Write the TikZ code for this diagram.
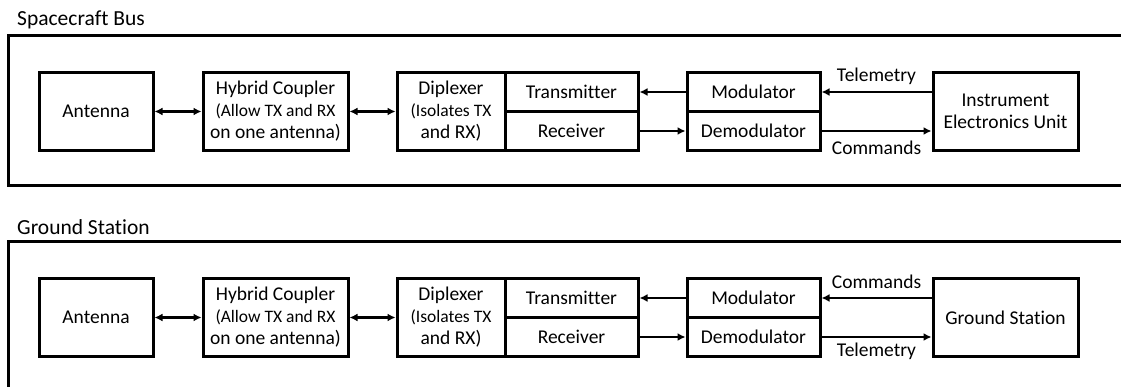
\documentclass[tikz,border=0pt]{standalone}
\usepackage{fontspec}
\setmainfont{Carlito}[Ligatures={NoCommon}]
\usetikzlibrary{arrows.meta}

\begin{document}
\begin{tikzpicture}[x=1pt,y=-1pt,
  blk/.style={draw, line width=3pt, inner sep=0pt, align=center,
    font=\fontsize{19.5}{22}\selectfont},
  frame/.style={line width=3pt},
  tip/.tip={Latex[length=8pt,width=8pt]},
  link/.style={line width=2.3pt, -tip},
  both/.style={line width=2.3pt, tip-tip},
  title/.style={font=\fontsize{21.5}{24}\selectfont, anchor=west, inner sep=0pt},
  tag/.style={font=\fontsize{19.5}{22}\selectfont, inner sep=0pt}]
\newcommand\subtxt{\fontsize{17.5}{22}\selectfont}
\path[use as bounding box, clip] (0,0) rectangle (1121,387);
\fill[white] (0,0) rectangle (1121,387);

% ---------------- Spacecraft bus ----------------
\node[title] (aTitle) at (17,20) {Spacecraft Bus};
\draw[frame] (1130,36) -- (8,36) -- (8,186) -- (1130,186);

\node[blk, minimum width=114pt, minimum height=78pt] (aAnt) at (96,111.5) {Antenna};
\node[blk, minimum width=145pt, minimum height=78pt] (aHyb) at (275.5,111.5)
  {Hybrid Coupler\\\subtxt(Allow TX and RX\\on one antenna)};
\node[blk, minimum width=108pt, minimum height=78pt] (aDip) at (451,111.5)
  {Diplexer\\\subtxt(Isolates TX\\and RX)};
\node[blk, minimum width=133pt, minimum height=39pt] (aTx) at (571.5,92) {Transmitter};
\node[blk, minimum width=133pt, minimum height=39pt] (aRx) at (571.5,131) {Receiver};
\node[blk, minimum width=133pt, minimum height=39pt] (aMod) at (753.5,92) {Modulator};
\node[blk, minimum width=133pt, minimum height=39pt] (aDem) at (753.5,131) {Demodulator};
\node[blk, minimum width=145pt, minimum height=78pt] (aIEU) at (1005.5,111.5)
  {Instrument\\Electronics Unit};

\draw[both] (aAnt.east) -- (aHyb.west);
\draw[both] (aHyb.east) -- (aDip.west);
\draw[link] (aMod.west) -- (aTx.east);
\draw[link] (aRx.east) -- (aDem.west);
\draw[link] (aIEU.west |- aMod.east) -- (aMod.east)
  node[tag, midway, above=6pt] (aTel) {Telemetry};
\draw[link] (aDem.east) -- (aIEU.west |- aDem.east)
  node[tag, midway, below=8.5pt] (aCmd) {Commands};

% ---------------- Ground station ----------------
\node[title] (bTitle) at (17,227) {Ground Station};
\draw[frame] (1130,242) -- (8,242) -- (8,400);

\node[blk, minimum width=114pt, minimum height=78pt] (bAnt) at (96,317.5) {Antenna};
\node[blk, minimum width=145pt, minimum height=78pt] (bHyb) at (275.5,317.5)
  {Hybrid Coupler\\\subtxt(Allow TX and RX\\on one antenna)};
\node[blk, minimum width=108pt, minimum height=78pt] (bDip) at (451,317.5)
  {Diplexer\\\subtxt(Isolates TX\\and RX)};
\node[blk, minimum width=133pt, minimum height=39pt] (bTx) at (571.5,298) {Transmitter};
\node[blk, minimum width=133pt, minimum height=39pt] (bRx) at (571.5,337) {Receiver};
\node[blk, minimum width=133pt, minimum height=39pt] (bMod) at (753.5,298) {Modulator};
\node[blk, minimum width=133pt, minimum height=39pt] (bDem) at (753.5,337) {Demodulator};
\node[blk, minimum width=145pt, minimum height=78pt] (bGS) at (1005.5,317.5) {Ground Station};

\draw[both] (bAnt.east) -- (bHyb.west);
\draw[both] (bHyb.east) -- (bDip.west);
\draw[link] (bMod.west) -- (bTx.east);
\draw[link] (bRx.east) -- (bDem.west);
\draw[link] (bGS.west |- bMod.east) -- (bMod.east)
  node[tag, midway, above=8pt] (bCmd) {Commands};
\draw[link] (bDem.east) -- (bGS.west |- bDem.east)
  node[tag, midway, below=5pt] (bTel) {Telemetry};
\end{tikzpicture}
\end{document}
